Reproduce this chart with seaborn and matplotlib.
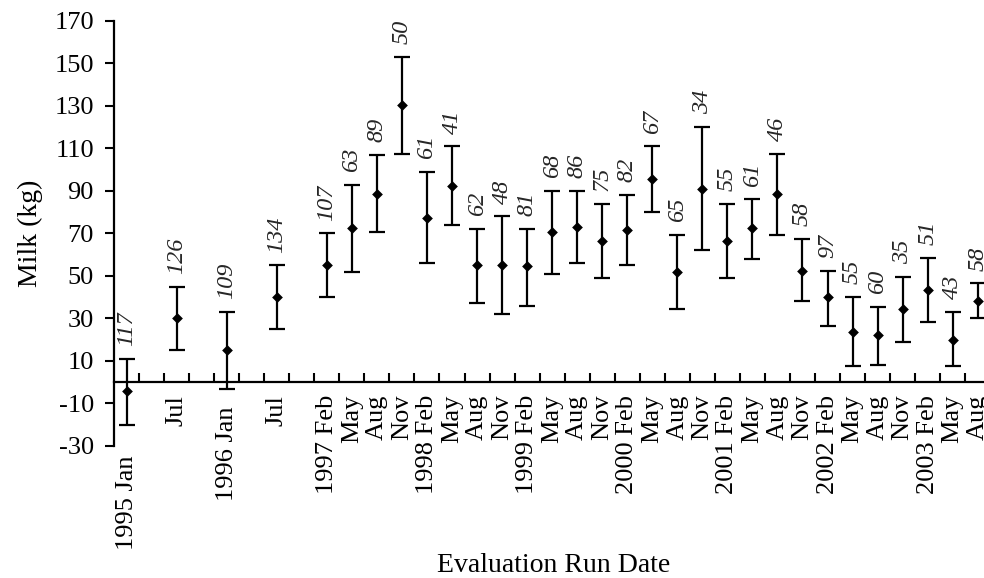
import numpy as np
import pandas as pd
import matplotlib
matplotlib.use("Agg")
import matplotlib.pyplot as plt
import matplotlib.transforms as mtransforms
import seaborn as sns

#%%
# data (blank run labels = no evaluation shown)
nan = np.nan
run_labels = ["1995 Jan", "", "Jul", "", "1996 Jan", "", "Jul", "",
              "1997 Feb", "May", "Aug", "Nov",
              "1998 Feb", "May", "Aug", "Nov",
              "1999 Feb", "May", "Aug", "Nov",
              "2000 Feb", "May", "Aug", "Nov",
              "2001 Feb", "May", "Aug", "Nov",
              "2002 Feb", "May", "Aug", "Nov",
              "2003 Feb", "May", "Aug"]
milk_mean = [-4, nan, 30, nan, 15, nan, 40, nan,
             55, 72.5, 88.5, 130.5,
             77.5, 92.5, 55, 55,
             54.5, 70.5, 73, 66.5,
             71.5, 95.5, 52, 91,
             66.5, 72.5, 88.5, 52.5,
             40, 23.5, 22, 34.5,
             43.5, 20, 38]
milk_low = [-20, nan, 15, nan, -3, nan, 25, nan,
            40, 52, 70.5, 107.5,
            56, 74, 37.5, 32,
            36, 51, 56, 49,
            55, 80, 34.5, 62,
            49, 58, 69.5, 38,
            26.5, 7.5, 8, 19,
            28.5, 7.5, 30]
milk_high = [11, nan, 45, nan, 33, nan, 55, nan,
             70, 93, 107, 153,
             99, 111, 72, 78,
             72, 90, 90, 84,
             88, 111, 69.5, 120,
             84, 86, 107.5, 67.5,
             52.5, 40, 35.5, 49.5,
             58.5, 33, 46.5]
n_obs = [117, nan, 126, nan, 109, nan, 134, nan,
         107, 63, 89, 50,
         61, 41, 62, 48,
         81, 68, 86, 75,
         82, 67, 65, 34,
         55, 61, 46, 58,
         97, 55, 60, 35,
         51, 43, 58]

df = pd.DataFrame({"run": np.arange(len(run_labels)),
                   "mean": milk_mean, "low": milk_low,
                   "high": milk_high, "n": n_obs}).dropna()

#%%
sns.set_theme(style="ticks")
plt.rcParams["font.family"] = ["Liberation Serif", "DejaVu Serif"]
plt.rcParams["axes.unicode_minus"] = False

fig = plt.figure(figsize=(9.84, 5.78), dpi=100)
ax = fig.add_axes([0.1159, 0.2284, 0.893, 0.7353])

ax.errorbar(df["run"], df["mean"],
            yerr=[df["mean"] - df["low"], df["high"] - df["mean"]],
            fmt="none", ecolor="black", elinewidth=1.6,
            capsize=5.5, capthick=1.6)
sns.scatterplot(data=df, x="run", y="mean", marker="D", s=30,
                color="black", edgecolor="black", linewidth=0,
                ax=ax, zorder=3)

# number of records above each bar
for _, r in df.iterrows():
    ax.text(r["run"], r["high"] + 6, f"{int(r['n'])}", rotation=90,
            ha="center", va="bottom", fontsize=17.5, style="italic")

ax.set_xlim(-0.5, 34.6)
ax.set_ylim(-30, 170)
ax.set_yticks(np.arange(-30, 171, 20))
ax.set_xticks(np.arange(len(run_labels)))
ax.set_xticklabels(run_labels)
ax.set_xticks(np.arange(len(run_labels)) + 0.5, minor=True)

ax.spines["bottom"].set_position(("data", 0))
ax.spines[["top", "right"]].set_visible(False)
for s in ["left", "bottom"]:
    ax.spines[s].set_color("black")
    ax.spines[s].set_linewidth(1.6)

ax.tick_params(axis="x", which="major", length=0, pad=9,
               labelsize=19, labelcolor="black", labelrotation=90)
ax.tick_params(axis="x", which="minor", direction="in", length=6.5,
               width=1.5, color="black")
ax.tick_params(axis="y", direction="out", length=6.5, width=1.5, pad=8,
               labelsize=19, color="black", labelcolor="black")

# push the first two year labels down under their error bars
label_drop = {0: 61, 4: 12}
for i, lab in enumerate(ax.get_xticklabels()):
    if i in label_drop:
        lab.set_transform(lab.get_transform() + mtransforms.ScaledTranslation(
            0, -label_drop[i] / fig.dpi, fig.dpi_scale_trans))

ax.set_ylabel("Milk (kg)", fontsize=20, labelpad=8, color="black")
ax.set_xlabel("Evaluation Run Date", fontsize=20, color="black")
ax.xaxis.set_label_coords(0.5007, -0.252)

fig.savefig("out.png", dpi=100)
